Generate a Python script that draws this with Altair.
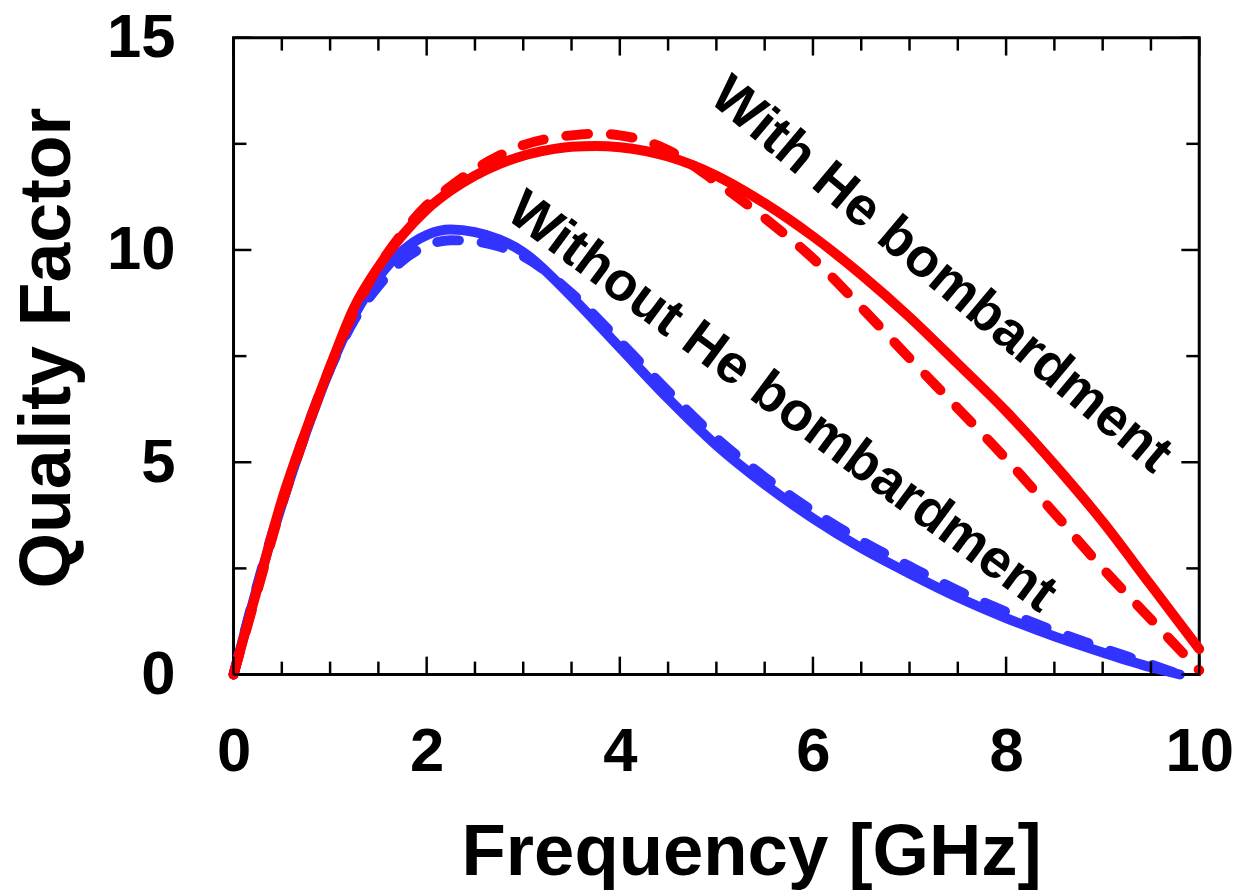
import altair as alt
import pandas as pd

# ---- data ----
freq_red = [0, 0.25, 0.5, 0.75, 1.0, 1.25, 1.5, 1.75, 2.0, 2.25, 2.5, 2.75, 3.0, 3.25,
            3.5, 3.75, 4.0, 4.5, 5.0, 5.5, 6.0, 6.5, 7.0, 7.5, 8.0, 8.5, 9.0, 9.5, 10.0]
q_red_solid = [0, 2.05, 4.1, 5.75, 7.25, 8.65, 9.6, 10.35, 10.95, 11.4, 11.75, 12.02, 12.22, 12.35,
               12.43, 12.45, 12.42, 12.2, 11.75, 11.1, 10.32, 9.42, 8.42, 7.32, 6.2, 4.95, 3.6, 2.1, 0.6]
q_red_dashed = [0, 2.0, 4.0, 5.7, 7.25, 8.55, 9.6, 10.4, 11.05, 11.5, 11.9, 12.22, 12.47, 12.62,
                12.7, 12.74, 12.7, 12.35, 11.6, 10.75, 9.8, 8.65, 7.45, 6.27, 5.08, 3.8, 2.5, 1.3, 0.1]

freq_blue = [0, 0.25, 0.5, 0.75, 1.0, 1.25, 1.5, 1.75, 2.0, 2.25, 2.5, 2.75, 3.0, 3.5,
             4.0, 4.5, 5.0, 5.5, 6.0, 6.5, 7.0, 7.5, 8.0, 8.5, 9.0, 9.5, 9.8]
q_blue_solid = [0, 2.1, 4.0, 5.7, 7.2, 8.45, 9.35, 9.98, 10.35, 10.48, 10.42, 10.25, 9.95, 8.9,
                7.7, 6.5, 5.4, 4.48, 3.68, 2.98, 2.38, 1.82, 1.33, 0.9, 0.52, 0.17, 0.0]
q_blue_dashed = [0, 2.15, 4.05, 5.75, 7.2, 8.35, 9.15, 9.75, 10.1, 10.23, 10.2, 10.08, 9.85, 8.98,
                 7.85, 6.67, 5.57, 4.65, 3.85, 3.15, 2.55, 1.98, 1.48, 1.03, 0.62, 0.24, 0.0]

x_major = [0, 2, 4, 6, 8, 10]
x_minor = [0.5, 1, 1.5, 2.5, 3, 3.5, 4.5, 5, 5.5, 6.5, 7, 7.5, 8.5, 9, 9.5]
y_major = [0, 5, 10, 15]
y_minor = [2.5, 7.5, 12.5]

annot_text = ["With He bombardment", "Without He bombardment"]
annot_x = [7.33, 5.68]
annot_y = [9.42, 6.42]
annot_angle = [40, 36.5]

# ---- layout / style ----
W, H = 972, 641
XMIN, XMAX, YMIN, YMAX = 0, 10, 0, 15
FONT = "Liberation Sans"
RED = "#ff0000"
BLUE = "#3333ff"
MAJ_PX, MIN_PX = 18, 13

xs = alt.Scale(domain=[XMIN, XMAX], nice=False, zero=False)
ys = alt.Scale(domain=[YMIN, YMAX], nice=False, zero=False)

x_axis = alt.Axis(values=x_major, format="d", grid=False, domain=False,
                  ticks=False, tickSize=0, labelPadding=48, labelFont=FONT, labelFontSize=62,
                  labelFontWeight="bold", labelColor="black", labelFlush=False, labelOverlap=False,
                  titleFont=FONT, titleFontSize=73, titleFontWeight="bold", titleColor="black",
                  titleX=521, titleY=201, titleBaseline="alphabetic", titleAlign="center")
y_axis = alt.Axis(values=y_major, format="d", grid=False, domain=False,
                  ticks=False, tickSize=0, labelPadding=59, labelFont=FONT, labelFontSize=62,
                  labelFontWeight="bold", labelColor="black", labelFlush=False, labelOverlap=False,
                  titleFont=FONT, titleFontSize=72, titleFontWeight="bold", titleColor="black",
                  titleAngle=270, titleX=-165, titleY=312, titleBaseline="alphabetic",
                  titleAlign="center")


def curve(freq, q, color, dashed):
    df = pd.DataFrame({"x": freq, "y": q})
    kw = dict(color=color, strokeWidth=10, strokeCap="round", strokeJoin="round",
              interpolate="monotone")
    if dashed:
        kw["strokeDash"] = [22, 23]
    return alt.Chart(df).mark_line(**kw)


def xticks(vals, px, at, direction):
    ln = px * (YMAX - YMIN) / H
    df = pd.DataFrame({"x": vals, "y": [at] * len(vals), "y2": [at + direction * ln] * len(vals)})
    return alt.Chart(df).mark_rule(color="black", strokeWidth=2.5).encode(y2="y2:Q")


def yticks(vals, px, at, direction):
    ln = px * (XMAX - XMIN) / W
    df = pd.DataFrame({"y": vals, "x": [at] * len(vals), "x2": [at + direction * ln] * len(vals)})
    return alt.Chart(df).mark_rule(color="black", strokeWidth=2.5).encode(x2="x2:Q")


ticks = [
    xticks(x_major, MAJ_PX, YMIN, 1), xticks(x_minor, MIN_PX, YMIN, 1),
    xticks(x_major, MAJ_PX, YMAX, -1), xticks(x_minor, MIN_PX, YMAX, -1),
    yticks(y_major, MAJ_PX, XMIN, 1), yticks(y_minor, MIN_PX, XMIN, 1),
    yticks(y_major, MAJ_PX, XMAX, -1), yticks(y_minor, MIN_PX, XMAX, -1),
]

texts = []
for t, x, y, a in zip(annot_text, annot_x, annot_y, annot_angle):
    df = pd.DataFrame({"t": [t], "x": [x], "y": [y]})
    texts.append(alt.Chart(df).mark_text(font=FONT, fontSize=55, fontWeight="bold", color="black",
                                         angle=a, align="center", baseline="middle").encode(
        text="t:N"))

chart = alt.layer(
    curve(freq_blue, q_blue_solid, BLUE, False),
    curve(freq_blue, q_blue_dashed, BLUE, True),
    curve(freq_red, q_red_dashed, RED, True),
    curve(freq_red, q_red_solid, RED, False),
    *ticks,
    *texts,
).encode(
    x=alt.X("x:Q", scale=xs, axis=x_axis, title="Frequency [GHz]"),
    y=alt.Y("y:Q", scale=ys, axis=y_axis, title="Quality Factor"),
).properties(
    width=W, height=H,
    padding={"left": 227, "top": 27, "right": 36, "bottom": 214},
    autosize=alt.AutoSizeParams(type="none"),
).configure_view(stroke="black", strokeWidth=3)

chart.save("out.html", embed_options={"renderer": "svg", "actions": False})
